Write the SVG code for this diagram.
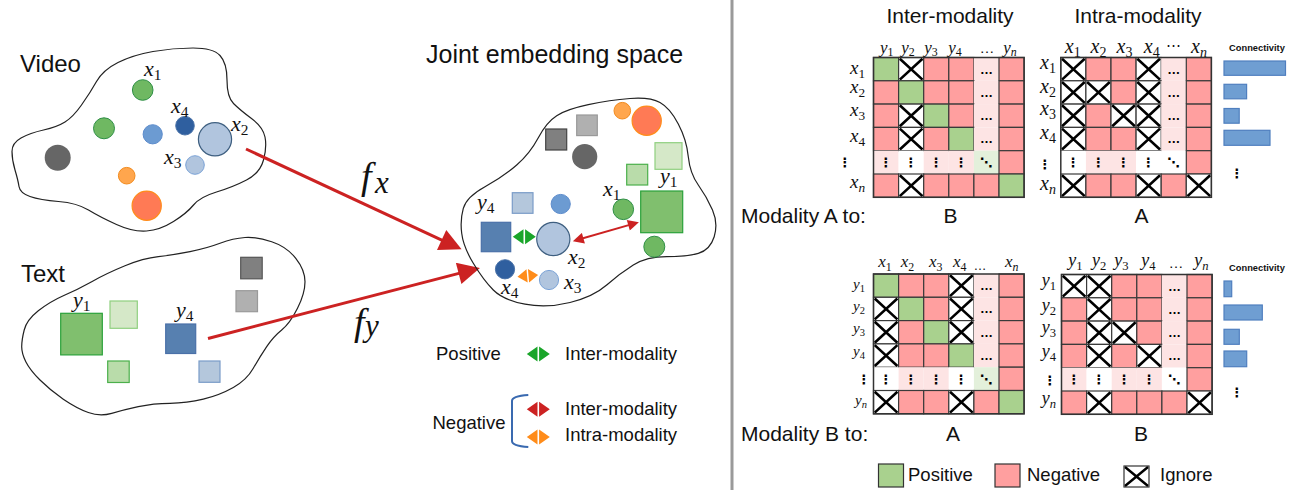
<svg xmlns="http://www.w3.org/2000/svg" xmlns:xlink="http://www.w3.org/1999/xlink" width="1293" height="490" viewBox="0 0 1293 490">
<style>
.sans{font-family:"Liberation Sans",Arial,sans-serif;fill:#111}
.m{font-family:"Liberation Serif","Times New Roman",serif;font-style:italic;fill:#111}
.sb{font-style:normal;font-size:70%}
.sbi{font-size:70%}
.blob{fill:none;stroke:#222;stroke-width:1.2}
.dt{font-family:"DejaVu Sans",sans-serif;font-size:13px;font-weight:bold;fill:#000;text-anchor:middle}
.dh{font-family:"Liberation Sans",Arial,sans-serif;font-size:13px;font-weight:bold;fill:#000;text-anchor:middle}
.bar{fill:#6f9ed2;stroke:#4f7fbf;stroke-width:1.2}
.cg{fill:#6fb862;stroke:#2e8f45;stroke-width:1}
.gb{fill:#ff7a55;stroke:#ff8c1a;stroke-width:1.2}
.go{fill:#ffa64d;stroke:#f28a1c;stroke-width:1}
</style>
<defs>
<rect id="cP" width="25.1" height="23.3" fill="#a9d18e" stroke="#3a3a3a" stroke-width="1.2"/>
<rect id="cN" width="25.1" height="23.3" fill="#ff9f9f" stroke="#3a3a3a" stroke-width="1.2"/>
<g id="cX"><rect width="25.1" height="23.3" fill="#fff" stroke="#3a3a3a" stroke-width="1.2"/><path d="M1.2,1.2L23.9,22.1M23.9,1.2L1.2,22.1" stroke="#000" stroke-width="2.6" fill="none"/></g>
<g id="cL"><rect width="25.1" height="23.3" fill="#fde4e4"/><text class="dh" x="12.5" y="16">…</text></g>
<g id="cLv"><rect width="25.1" height="23.3" fill="#fde4e4"/><text class="dt" x="12.5" y="16.5">⋮</text></g>
<g id="cWv"><rect width="25.1" height="23.3" fill="#fff"/><text class="dt" x="12.5" y="16.5">⋮</text></g>
<g id="cGd"><rect width="25.1" height="23.3" fill="#e3f0db"/><text class="dt" x="12.5" y="16.5">⋱</text></g>
<g id="cWd"><rect width="25.1" height="23.3" fill="#fff"/><text class="dt" x="12.5" y="16.5">⋱</text></g>
<path id="dbl" d="M-11.5,0L-0.8,-7.5L-0.8,7.5ZM11.5,0L0.8,-7.5L0.8,7.5Z"/>
<marker id="ah" viewBox="0 0 10 10" refX="6" refY="5" markerWidth="26" markerHeight="22" markerUnits="userSpaceOnUse" orient="auto"><path d="M0,0L10,5L0,10Z" fill="#cc2222"/></marker>
<marker id="ahs" viewBox="0 0 10 10" refX="7" refY="5" markerWidth="13" markerHeight="11" markerUnits="userSpaceOnUse" orient="auto-start-reverse"><path d="M0,0L10,5L0,10Z" fill="#cc2222"/></marker>
</defs>
<rect width="1293" height="490" fill="#fff"/>
<line x1="732" y1="0" x2="732" y2="490" stroke="#9a9a9a" stroke-width="3"/>

<!-- VIDEO -->
<g id="video">
<path class="blob" d="M21,138 Q30,133 43.5,130 Q57,127 65,122 Q73,117 81.5,105 Q90,93 96.5,81.5 Q103,70 118,62.5 Q133,55 153,51.5 Q173,48 193,48 Q213,48 220,55.5 Q227,63 227,80 Q227,97 233.5,103.5 Q240,110 251.5,118.5 Q263,127 265,137 Q267,147 263.5,160 Q260,173 246.5,180 Q233,187 216.5,192 Q200,197 193.5,205 Q187,213 173.5,221.5 Q160,230 146.5,231 Q133,232 116.5,224.5 Q100,217 88.5,210 Q77,203 58.5,201.5 Q40,200 30,196.5 Q20,193 19,186.5 Q18,180 15,170 Q12,160 12,151.5 Q12,143 21,138 Z"/>
<text class="sans" x="20" y="72" font-size="24">Video</text>
<circle class="cg" cx="142.7" cy="90" r="10.3"/>
<circle class="cg" cx="104" cy="128.3" r="10.5"/>
<circle cx="152.7" cy="134.3" r="9.6" fill="#6c9bd2" stroke="#5d8ccc"/>
<circle cx="185" cy="125.7" r="9.3" fill="#2f5f9f" stroke="#4a72a8"/>
<circle cx="215" cy="139.3" r="16.6" fill="#b1c5de" stroke="#3e5f80" stroke-width="1.2"/>
<circle cx="57.7" cy="157.7" r="13" fill="#666"/>
<circle class="go" cx="126.7" cy="175.7" r="8.3"/>
<circle class="gb" cx="146.7" cy="205.7" r="14.6"/>
<circle cx="195" cy="165" r="9.3" fill="#b1c5de" stroke="#7aa2d6"/>
<text class="m" x="144" y="76" font-size="22">x<tspan class="sb" dy="4">1</tspan></text>
<text class="m" x="171" y="113" font-size="22">x<tspan class="sb" dy="4">4</tspan></text>
<text class="m" x="231" y="131" font-size="22">x<tspan class="sb" dy="4">2</tspan></text>
<text class="m" x="164" y="164" font-size="22">x<tspan class="sb" dy="4">3</tspan></text>
</g>

<!-- TEXT -->
<g id="text">
<path class="blob" d="M24.2,330 Q26.7,320 38.3,310.8 Q50,301.7 63.3,295.8 Q76.7,290 91.7,281.7 Q106.7,273.3 125,265.8 Q143.3,258.3 158.3,256.7 Q173.3,255 190,251.7 Q206.7,248.3 220,243.3 Q233.3,238.3 245,237.5 Q256.7,236.7 271.7,241.7 Q286.7,246.7 295.8,258.3 Q305,270 305,281.7 Q305,293.3 297.5,308.3 Q290,323.3 281.7,330 Q273.3,336.7 266.7,346.7 Q260,356.7 253.3,368.3 Q246.7,380 233.3,387.5 Q220,395 203.3,399.2 Q186.7,403.3 170,403.3 Q153.3,403.3 138.3,406.7 Q123.3,410 111.7,413.3 Q100,416.7 88.3,412.5 Q76.7,408.3 63.3,399.2 Q50,390 40,380 Q30,370 25.8,361.7 Q21.7,353.3 21.7,346.7 Q21.7,340 24.2,330 Z"/>
<text class="sans" x="21" y="282" font-size="24">Text</text>
<rect x="60.7" y="313.3" width="41.6" height="41.6" fill="#80bf6e" stroke="#2aa13a" stroke-width="1.2"/>
<rect x="110" y="301" width="27.3" height="27.3" fill="#d5e8c8" stroke="#8fcf7f" stroke-width="1.2"/>
<rect x="107.7" y="361" width="21.5" height="21.5" fill="#b9dcaa" stroke="#4bb04b" stroke-width="1.2"/>
<rect x="165.7" y="324" width="30" height="29.5" fill="#5780b0" stroke="#4a70a8" stroke-width="1.2"/>
<rect x="199" y="361" width="21" height="21.3" fill="#b4c7dc" stroke="#7a9cc8" stroke-width="1.2"/>
<rect x="240.7" y="257.3" width="21.5" height="21.5" fill="#808080" stroke="#555" stroke-width="1.2"/>
<rect x="236" y="290.7" width="21.5" height="21" fill="#b0b0b0" stroke="#999" stroke-width="1.2"/>
<text class="m" x="73" y="307" font-size="22">y<tspan class="sb" dy="4">1</tspan></text>
<text class="m" x="176" y="317" font-size="22">y<tspan class="sb" dy="4">4</tspan></text>
</g>

<!-- MAPPINGS -->
<g id="connectors">
<line x1="246" y1="149" x2="453.6" y2="245.6" stroke="#cc2222" stroke-width="3" marker-end="url(#ah)"/>
<line x1="208" y1="338.5" x2="471.4" y2="270.1" stroke="#cc2222" stroke-width="3" marker-end="url(#ah)"/>
<text class="m" x="361" y="189" font-size="38">f</text><text class="m" x="375" y="193" font-size="31">x</text>
<text class="m" x="354" y="335" font-size="38">f</text><text class="m" x="365" y="336" font-size="31">y</text>
</g>

<!-- JOINT -->
<g id="joint">
<text class="sans" x="426" y="63" font-size="25">Joint embedding space</text>
<path class="blob" d="M485,186.7 Q503.3,176.7 516.7,165 Q530,153.3 538.3,137.7 Q546.7,122 556.7,115.7 Q566.7,109.3 588.3,104.7 Q610,100 630,98.5 Q650,97 660,102.5 Q670,108 678.3,124 Q686.7,140 688.3,156.7 Q690,173.3 698.3,185 Q706.7,196.7 712.5,210 Q718.3,223.3 714.2,236.7 Q710,250 698.3,253.3 Q686.7,256.7 666.7,256.7 Q646.7,256.7 633.3,265 Q620,273.3 606.7,285 Q593.3,296.7 570,302.5 Q546.7,308.3 525,304.2 Q503.3,300 493.3,290 Q483.3,280 473.3,263.3 Q463.3,246.7 461.7,233.3 Q460,220 463.3,208.3 Q466.7,196.7 485,186.7 Z"/>
<circle class="go" cx="622.3" cy="110.7" r="8.3"/>
<circle class="gb" cx="646.7" cy="120.7" r="14.6"/>
<rect x="576.7" y="115" width="20.6" height="20.6" fill="#b0b0b0" stroke="#999" stroke-width="1.2"/>
<rect x="545.7" y="129" width="21" height="21" fill="#808080" stroke="#444" stroke-width="1.2"/>
<circle cx="584.7" cy="156.7" r="12.6" fill="#666"/>
<rect x="655" y="142.7" width="27" height="26.6" fill="#d5e8c8" stroke="#8fcf7f" stroke-width="1.2"/>
<rect x="626.7" y="164.3" width="21" height="20.7" fill="#b9dcaa" stroke="#4bb04b" stroke-width="1.2"/>
<circle class="cg" cx="623.3" cy="209.3" r="10.3"/>
<rect x="640.7" y="191" width="42" height="41.7" fill="#80bf6e" stroke="#2aa13a" stroke-width="1.2"/>
<circle class="cg" cx="654.3" cy="246.7" r="10.5"/>
<rect x="512.3" y="192.7" width="20.7" height="20.6" fill="#b4c7dc" stroke="#7a9cc8" stroke-width="1.2"/>
<circle cx="560.7" cy="204" r="9.6" fill="#6c9bd2" stroke="#5d8ccc"/>
<rect x="481.3" y="222.3" width="29.4" height="29.4" fill="#5780b0" stroke="#4a70a8" stroke-width="1.2"/>
<circle cx="553.3" cy="239" r="16.6" fill="#b1c5de" stroke="#3e5f80" stroke-width="1.2"/>
<circle cx="505" cy="269.3" r="9.6" fill="#2f5f9f" stroke="#4a72a8"/>
<circle cx="549" cy="280" r="9.6" fill="#b1c5de" stroke="#7aa2d6"/>
<use href="#dbl" transform="translate(524.3,236.7)" fill="#1aa52a"/>
<use href="#dbl" transform="translate(527.8,275.8) rotate(-5) scale(0.9)" fill="#ff8c1a"/>
<line x1="576" y1="240.3" x2="635.7" y2="223.1" stroke="#cc2222" stroke-width="2" marker-start="url(#ahs)" marker-end="url(#ahs)"/>
<text class="m" x="603" y="196" font-size="22">x<tspan class="sb" dy="4">1</tspan></text>
<text class="m" x="660" y="183" font-size="22">y<tspan class="sb" dy="4">1</tspan></text>
<text class="m" x="477" y="209" font-size="22">y<tspan class="sb" dy="4">4</tspan></text>
<text class="m" x="568" y="264" font-size="22">x<tspan class="sb" dy="4">2</tspan></text>
<text class="m" x="501" y="294" font-size="22">x<tspan class="sb" dy="4">4</tspan></text>
<text class="m" x="564" y="289" font-size="22">x<tspan class="sb" dy="4">3</tspan></text>
</g>

<!-- LEGEND LEFT -->
<g id="legend-left">
<text class="sans" x="436" y="360" font-size="18.5">Positive</text>
<use href="#dbl" transform="translate(538.3,354)" fill="#1aa52a"/>
<text class="sans" x="565" y="360" font-size="18.5">Inter-modality</text>
<path d="M528.3,395 Q512,396 512,401 L512,441 Q512,446 528.3,447" fill="none" stroke="#3a6ab0" stroke-width="2"/>
<text class="sans" x="432.5" y="429" font-size="18.5">Negative</text>
<use href="#dbl" transform="translate(538.3,409.3)" fill="#cc2222"/>
<text class="sans" x="565" y="415" font-size="18.5">Inter-modality</text>
<use href="#dbl" transform="translate(538.3,437)" fill="#ff8c1a"/>
<text class="sans" x="565" y="441" font-size="18.5">Intra-modality</text>
</g>

<!-- MATRIX TITLES -->
<g id="titles">
<text class="sans" x="950" y="23" font-size="21" text-anchor="middle">Inter-modality</text>
<text class="sans" x="1138" y="23" font-size="21" text-anchor="middle">Intra-modality</text>
<text class="sans" x="741" y="223" font-size="21">Modality A to:</text>
<text class="sans" x="950.5" y="223" font-size="21" text-anchor="middle">B</text>
<text class="sans" x="1141.5" y="223" font-size="21" text-anchor="middle">A</text>
<text class="sans" x="741" y="441" font-size="21">Modality B to:</text>
<text class="sans" x="953" y="441" font-size="21" text-anchor="middle">A</text>
<text class="sans" x="1141" y="441" font-size="21" text-anchor="middle">B</text>
</g>

<!-- MATRIX A->B -->
<g id="matrix-AB">
<g transform="translate(873.5,57.5)">
<use href="#cP" x="0" y="0"/><use href="#cX" x="25.1" y="0"/><use href="#cN" x="50.2" y="0"/><use href="#cN" x="75.3" y="0"/><use href="#cL" x="100.4" y="0"/><use href="#cN" x="125.5" y="0"/>
<use href="#cN" x="0" y="23.3"/><use href="#cP" x="25.1" y="23.3"/><use href="#cN" x="50.2" y="23.3"/><use href="#cN" x="75.3" y="23.3"/><use href="#cL" x="100.4" y="23.3"/><use href="#cN" x="125.5" y="23.3"/>
<use href="#cN" x="0" y="46.6"/><use href="#cX" x="25.1" y="46.6"/><use href="#cP" x="50.2" y="46.6"/><use href="#cN" x="75.3" y="46.6"/><use href="#cL" x="100.4" y="46.6"/><use href="#cN" x="125.5" y="46.6"/>
<use href="#cN" x="0" y="69.9"/><use href="#cX" x="25.1" y="69.9"/><use href="#cN" x="50.2" y="69.9"/><use href="#cP" x="75.3" y="69.9"/><use href="#cL" x="100.4" y="69.9"/><use href="#cN" x="125.5" y="69.9"/>
<use href="#cLv" x="0" y="93.2"/><use href="#cWv" x="25.1" y="93.2"/><use href="#cLv" x="50.2" y="93.2"/><use href="#cLv" x="75.3" y="93.2"/><use href="#cGd" x="100.4" y="93.2"/><use href="#cN" x="125.5" y="93.2"/>
<use href="#cN" x="0" y="116.5"/><use href="#cX" x="25.1" y="116.5"/><use href="#cN" x="50.2" y="116.5"/><use href="#cN" x="75.3" y="116.5"/><use href="#cN" x="100.4" y="116.5"/><use href="#cP" x="125.5" y="116.5"/>
<rect width="150.6" height="139.8" fill="none" stroke="#333" stroke-width="1.5"/>
</g>
<g font-size="17">
<text class="m" x="886.7" y="53" text-anchor="middle">y<tspan class="sb" dy="3">1</tspan></text>
<text class="m" x="908" y="53" text-anchor="middle">y<tspan class="sb" dy="3">2</tspan></text>
<text class="m" x="931" y="53" text-anchor="middle">y<tspan class="sb" dy="3">3</tspan></text>
<text class="m" x="955" y="53" text-anchor="middle">y<tspan class="sb" dy="3">4</tspan></text>
<text class="sans" x="987" y="53" text-anchor="middle" font-size="15">…</text>
<text class="m" x="1010" y="53" text-anchor="middle">y<tspan class="sbi" dy="3">n</tspan></text>
</g>
<g font-size="19">
<text class="m" x="857.5" y="74" text-anchor="middle">x<tspan class="sb" dy="4">1</tspan></text>
<text class="m" x="857.5" y="93" text-anchor="middle">x<tspan class="sb" dy="4">2</tspan></text>
<text class="m" x="857.5" y="116" text-anchor="middle">x<tspan class="sb" dy="4">3</tspan></text>
<text class="m" x="857.5" y="142" text-anchor="middle">x<tspan class="sb" dy="4">4</tspan></text>
<text class="dt" x="845" y="167" font-size="15">⋮</text>
<text class="m" x="857.5" y="188" text-anchor="middle">x<tspan class="sbi" dy="4">n</tspan></text>
</g>
</g>

<!-- MATRIX A->A -->
<g id="matrix-AA">
<g transform="translate(1060.8,57.5)">
<use href="#cX" x="0" y="0"/><use href="#cN" x="25.1" y="0"/><use href="#cN" x="50.2" y="0"/><use href="#cX" x="75.3" y="0"/><use href="#cL" x="100.4" y="0"/><use href="#cN" x="125.5" y="0"/>
<use href="#cX" x="0" y="23.3"/><use href="#cX" x="25.1" y="23.3"/><use href="#cN" x="50.2" y="23.3"/><use href="#cX" x="75.3" y="23.3"/><use href="#cL" x="100.4" y="23.3"/><use href="#cN" x="125.5" y="23.3"/>
<use href="#cX" x="0" y="46.6"/><use href="#cN" x="25.1" y="46.6"/><use href="#cX" x="50.2" y="46.6"/><use href="#cX" x="75.3" y="46.6"/><use href="#cL" x="100.4" y="46.6"/><use href="#cN" x="125.5" y="46.6"/>
<use href="#cX" x="0" y="69.9"/><use href="#cN" x="25.1" y="69.9"/><use href="#cN" x="50.2" y="69.9"/><use href="#cX" x="75.3" y="69.9"/><use href="#cL" x="100.4" y="69.9"/><use href="#cN" x="125.5" y="69.9"/>
<use href="#cWv" x="0" y="93.2"/><use href="#cLv" x="25.1" y="93.2"/><use href="#cLv" x="50.2" y="93.2"/><use href="#cWv" x="75.3" y="93.2"/><use href="#cWd" x="100.4" y="93.2"/><use href="#cN" x="125.5" y="93.2"/>
<use href="#cX" x="0" y="116.5"/><use href="#cN" x="25.1" y="116.5"/><use href="#cN" x="50.2" y="116.5"/><use href="#cX" x="75.3" y="116.5"/><use href="#cN" x="100.4" y="116.5"/><use href="#cX" x="125.5" y="116.5"/>
<rect width="150.6" height="139.8" fill="none" stroke="#333" stroke-width="1.5"/>
</g>
<g font-size="20">
<text class="m" x="1072.7" y="53" text-anchor="middle">x<tspan class="sb" dy="4">1</tspan></text>
<text class="m" x="1098.5" y="53" text-anchor="middle">x<tspan class="sb" dy="4">2</tspan></text>
<text class="m" x="1124.5" y="53" text-anchor="middle">x<tspan class="sb" dy="4">3</tspan></text>
<text class="m" x="1151.7" y="53" text-anchor="middle">x<tspan class="sb" dy="4">4</tspan></text>
<text class="sans" x="1173.3" y="50" text-anchor="middle" font-size="15">⋯</text>
<text class="m" x="1199" y="53" text-anchor="middle">x<tspan class="sbi" dy="4">n</tspan></text>
<text class="m" x="1048" y="69" text-anchor="middle">x<tspan class="sb" dy="4">1</tspan></text>
<text class="m" x="1048" y="92.5" text-anchor="middle">x<tspan class="sb" dy="4">2</tspan></text>
<text class="m" x="1048" y="115" text-anchor="middle">x<tspan class="sb" dy="4">3</tspan></text>
<text class="m" x="1048" y="139" text-anchor="middle">x<tspan class="sb" dy="4">4</tspan></text>
<text class="dt" x="1045" y="169" font-size="15">⋮</text>
<text class="m" x="1048" y="190" text-anchor="middle">x<tspan class="sbi" dy="4">n</tspan></text>
</g>
<g id="conn-A">
<text class="sans" x="1257" y="51" font-size="9.3" font-weight="bold" text-anchor="middle">Connectivity</text>
<rect class="bar" x="1224" y="61" width="61.5" height="14.3"/>
<rect class="bar" x="1224" y="84.3" width="22.6" height="14.5"/>
<rect class="bar" x="1224" y="108.5" width="15.2" height="14.7"/>
<rect class="bar" x="1224" y="130.3" width="46" height="15"/>
<text class="dt" x="1237" y="178" font-size="13">⋮</text>
</g>
</g>

<!-- MATRIX B->A -->
<g id="matrix-BA">
<g transform="translate(873.5,274)">
<use href="#cP" x="0" y="0"/><use href="#cN" x="25.1" y="0"/><use href="#cN" x="50.2" y="0"/><use href="#cX" x="75.3" y="0"/><use href="#cL" x="100.4" y="0"/><use href="#cN" x="125.5" y="0"/>
<use href="#cX" x="0" y="23.3"/><use href="#cP" x="25.1" y="23.3"/><use href="#cN" x="50.2" y="23.3"/><use href="#cX" x="75.3" y="23.3"/><use href="#cL" x="100.4" y="23.3"/><use href="#cN" x="125.5" y="23.3"/>
<use href="#cX" x="0" y="46.6"/><use href="#cN" x="25.1" y="46.6"/><use href="#cP" x="50.2" y="46.6"/><use href="#cX" x="75.3" y="46.6"/><use href="#cL" x="100.4" y="46.6"/><use href="#cN" x="125.5" y="46.6"/>
<use href="#cX" x="0" y="69.9"/><use href="#cN" x="25.1" y="69.9"/><use href="#cN" x="50.2" y="69.9"/><use href="#cP" x="75.3" y="69.9"/><use href="#cL" x="100.4" y="69.9"/><use href="#cN" x="125.5" y="69.9"/>
<use href="#cWv" x="0" y="93.2"/><use href="#cLv" x="25.1" y="93.2"/><use href="#cLv" x="50.2" y="93.2"/><use href="#cWv" x="75.3" y="93.2"/><use href="#cGd" x="100.4" y="93.2"/><use href="#cN" x="125.5" y="93.2"/>
<use href="#cX" x="0" y="116.5"/><use href="#cN" x="25.1" y="116.5"/><use href="#cN" x="50.2" y="116.5"/><use href="#cX" x="75.3" y="116.5"/><use href="#cN" x="100.4" y="116.5"/><use href="#cP" x="125.5" y="116.5"/>
<rect width="150.6" height="139.8" fill="none" stroke="#333" stroke-width="1.5"/>
</g>
<g font-size="17">
<text class="m" x="885" y="267" text-anchor="middle">x<tspan class="sb" dy="4">1</tspan></text>
<text class="m" x="907.5" y="267" text-anchor="middle">x<tspan class="sb" dy="4">2</tspan></text>
<text class="m" x="935.8" y="267" text-anchor="middle">x<tspan class="sb" dy="4">3</tspan></text>
<text class="m" x="959.8" y="267" text-anchor="middle">x<tspan class="sb" dy="4">4</tspan></text>
<text class="sans" x="980" y="270" text-anchor="middle" font-size="13">…</text>
<text class="m" x="1011.7" y="267" text-anchor="middle">x<tspan class="sbi" dy="4">n</tspan></text>
</g>
<g font-size="15">
<text class="m" x="859" y="289" text-anchor="middle">y<tspan class="sb" dy="3">1</tspan></text>
<text class="m" x="859" y="311" text-anchor="middle">y<tspan class="sb" dy="3">2</tspan></text>
<text class="m" x="859" y="333" text-anchor="middle">y<tspan class="sb" dy="3">3</tspan></text>
<text class="m" x="859" y="356" text-anchor="middle">y<tspan class="sb" dy="3">4</tspan></text>
<text class="dt" x="864" y="384" font-size="12">⋮</text>
<text class="m" x="861" y="405" text-anchor="middle">y<tspan class="sbi" dy="3">n</tspan></text>
</g>
</g>

<!-- MATRIX B->B -->
<g id="matrix-BB">
<g transform="translate(1061.5,274.5)">
<use href="#cX" x="0" y="0"/><use href="#cX" x="25.1" y="0"/><use href="#cN" x="50.2" y="0"/><use href="#cN" x="75.3" y="0"/><use href="#cL" x="100.4" y="0"/><use href="#cN" x="125.5" y="0"/>
<use href="#cN" x="0" y="23.3"/><use href="#cX" x="25.1" y="23.3"/><use href="#cN" x="50.2" y="23.3"/><use href="#cN" x="75.3" y="23.3"/><use href="#cL" x="100.4" y="23.3"/><use href="#cN" x="125.5" y="23.3"/>
<use href="#cN" x="0" y="46.6"/><use href="#cX" x="25.1" y="46.6"/><use href="#cX" x="50.2" y="46.6"/><use href="#cN" x="75.3" y="46.6"/><use href="#cL" x="100.4" y="46.6"/><use href="#cN" x="125.5" y="46.6"/>
<use href="#cN" x="0" y="69.9"/><use href="#cX" x="25.1" y="69.9"/><use href="#cN" x="50.2" y="69.9"/><use href="#cX" x="75.3" y="69.9"/><use href="#cL" x="100.4" y="69.9"/><use href="#cN" x="125.5" y="69.9"/>
<use href="#cLv" x="0" y="93.2"/><use href="#cWv" x="25.1" y="93.2"/><use href="#cLv" x="50.2" y="93.2"/><use href="#cLv" x="75.3" y="93.2"/><use href="#cWd" x="100.4" y="93.2"/><use href="#cN" x="125.5" y="93.2"/>
<use href="#cN" x="0" y="116.5"/><use href="#cX" x="25.1" y="116.5"/><use href="#cN" x="50.2" y="116.5"/><use href="#cN" x="75.3" y="116.5"/><use href="#cN" x="100.4" y="116.5"/><use href="#cX" x="125.5" y="116.5"/>
<rect width="150.6" height="139.8" fill="none" stroke="#333" stroke-width="1.5"/>
</g>
<g font-size="18">
<text class="m" x="1075.5" y="266" text-anchor="middle">y<tspan class="sb" dy="4">1</tspan></text>
<text class="m" x="1099.2" y="266" text-anchor="middle">y<tspan class="sb" dy="4">2</tspan></text>
<text class="m" x="1121.5" y="266" text-anchor="middle">y<tspan class="sb" dy="4">3</tspan></text>
<text class="m" x="1148.3" y="266" text-anchor="middle">y<tspan class="sb" dy="4">4</tspan></text>
<text class="sans" x="1176" y="268" text-anchor="middle" font-size="15">…</text>
<text class="m" x="1201.5" y="266" text-anchor="middle">y<tspan class="sbi" dy="4">n</tspan></text>
<text class="m" x="1049" y="286" text-anchor="middle">y<tspan class="sb" dy="4">1</tspan></text>
<text class="m" x="1049" y="311" text-anchor="middle">y<tspan class="sb" dy="4">2</tspan></text>
<text class="m" x="1049" y="333" text-anchor="middle">y<tspan class="sb" dy="4">3</tspan></text>
<text class="m" x="1049" y="357" text-anchor="middle">y<tspan class="sb" dy="4">4</tspan></text>
<text class="dt" x="1050" y="385" font-size="12">⋮</text>
<text class="m" x="1049" y="404" text-anchor="middle">y<tspan class="sbi" dy="4">n</tspan></text>
</g>
<g id="conn-B">
<text class="sans" x="1257" y="271" font-size="9.3" font-weight="bold" text-anchor="middle">Connectivity</text>
<rect class="bar" x="1224" y="281" width="7.7" height="15.7"/>
<rect class="bar" x="1224" y="305" width="38.3" height="15"/>
<rect class="bar" x="1224" y="329.3" width="15.3" height="15"/>
<rect class="bar" x="1224" y="351" width="22.7" height="15.7"/>
<text class="dt" x="1237" y="397" font-size="13">⋮</text>
</g>
</g>

<!-- LEGEND RIGHT -->
<g id="legend-right">
<rect x="878.5" y="464" width="25" height="23" fill="#a9d18e" stroke="#333" stroke-width="1.2"/>
<text class="sans" x="908" y="481" font-size="18.5">Positive</text>
<rect x="995" y="464" width="25" height="23" fill="#ff9f9f" stroke="#333" stroke-width="1.2"/>
<text class="sans" x="1027" y="481" font-size="18.5">Negative</text>
<rect x="1124" y="466" width="25" height="21" fill="#fff" stroke="#333" stroke-width="1.2"/>
<path d="M1125,467L1148,486M1148,467L1125,486" stroke="#000" stroke-width="2.4"/>
<text class="sans" x="1160" y="481" font-size="18.5">Ignore</text>
</g>
</svg>
